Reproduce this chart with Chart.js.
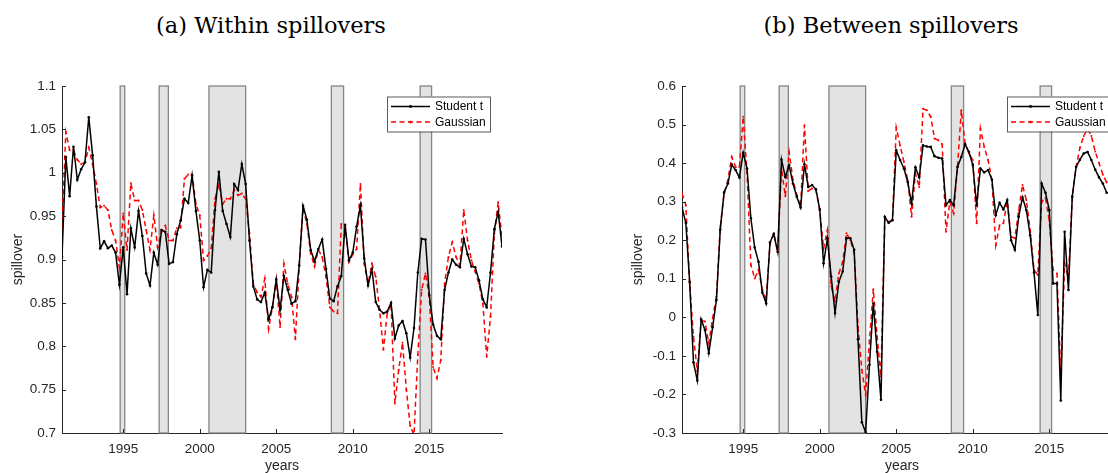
<!DOCTYPE html>
<html>
<head>
<meta charset="utf-8">
<script src="https://cdn.jsdelivr.net/npm/chart.js@4.4.1/dist/chart.umd.min.js"></script>
<style>
  html, body { margin: 0; padding: 0; background: #fff; width: 1108px; height: 473px; overflow: hidden; }
  .panel { position: absolute; top: 0; }
  .ttl { position: absolute; top: 10px; line-height: 30px; font-family: "DejaVu Serif", serif; font-size: 22.5px; color: #000; white-space: nowrap; transform: translateX(-50%); }
</style>
</head>
<body>
<div class="ttl" style="left:271px">(a) Within spillovers</div>
<div class="ttl" style="left:891px">(b) Between spillovers</div>
<div class="panel" style="left:0"><canvas id="within" width="544" height="473"></canvas></div>
<div class="panel" style="left:620px"><canvas id="between" width="544" height="473"></canvas></div>
<script>
// quarterly series, first observation 1991Q1
const firstYear = 1991;
const lastYear = 2019.75;
const yearTicks = [1995, 2000, 2005, 2010, 2015];

// shaded crisis periods
const bandStart = [1994.8, 1997.35, 2000.6, 2008.6, 2014.4];
const bandEnd   = [1995.1, 1997.95, 2003.0, 2009.4, 2015.15];

const withinTicks  = [0.7, 0.75, 0.8, 0.85, 0.9, 0.95, 1, 1.05, 1.1];
const betweenTicks = [-0.3, -0.2, -0.1, 0, 0.1, 0.2, 0.3, 0.4, 0.5, 0.6];

const studentWithin = [
  0.903, 1.018, 0.973, 1.030, 0.992, 1.004, 1.012, 1.064, 1.020, 0.961,
  0.913, 0.921, 0.913, 0.916, 0.908, 0.871, 0.914, 0.860, 0.936, 0.914,
  0.956, 0.927, 0.884, 0.870, 0.908, 0.894, 0.934, 0.932, 0.895, 0.897,
  0.929, 0.945, 0.970, 0.965, 0.997, 0.956, 0.922, 0.868, 0.888, 0.885,
  0.957, 1.001, 0.956, 0.941, 0.926, 0.987, 0.980, 1.010, 0.987, 0.922,
  0.869, 0.854, 0.851, 0.862, 0.831, 0.845, 0.877, 0.842, 0.881, 0.865,
  0.849, 0.852, 0.893, 0.962, 0.946, 0.911, 0.898, 0.912, 0.923, 0.889,
  0.855, 0.852, 0.869, 0.881, 0.940, 0.899, 0.908, 0.938, 0.962, 0.901,
  0.870, 0.889, 0.851, 0.842, 0.838, 0.840, 0.850, 0.809, 0.824, 0.829,
  0.815, 0.787, 0.821, 0.885, 0.924, 0.923, 0.859, 0.825, 0.812, 0.808,
  0.865, 0.885, 0.900, 0.894, 0.891, 0.924, 0.906, 0.892, 0.891, 0.876,
  0.854, 0.845, 0.885, 0.935, 0.955, 0.915
];
const gaussianWithin = [
  0.936, 1.047, 1.026, 1.026, 1.015, 1.010, 1.012, 1.029, 1.010, 0.987,
  0.960, 0.962, 0.957, 0.934, 0.922, 0.891, 0.953, 0.911, 0.988, 0.968,
  0.968, 0.957, 0.934, 0.911, 0.951, 0.914, 0.932, 0.939, 0.922, 0.922,
  0.936, 0.937, 0.993, 0.998, 0.998, 0.964, 0.951, 0.899, 0.904, 0.913,
  0.970, 0.987, 0.964, 0.970, 0.970, 0.980, 0.974, 0.976, 0.970, 0.930,
  0.872, 0.862, 0.857, 0.878, 0.820, 0.845, 0.877, 0.822, 0.895, 0.872,
  0.857, 0.808, 0.893, 0.960, 0.941, 0.907, 0.892, 0.911, 0.903, 0.880,
  0.845, 0.840, 0.838, 0.941, 0.939, 0.897, 0.906, 0.912, 0.987, 0.895,
  0.872, 0.895, 0.880, 0.842, 0.796, 0.838, 0.849, 0.734, 0.773, 0.804,
  0.750, 0.708, 0.698, 0.790, 0.865, 0.884, 0.857, 0.776, 0.763, 0.784,
  0.872, 0.903, 0.920, 0.903, 0.893, 0.957, 0.922, 0.899, 0.886, 0.872,
  0.849, 0.788, 0.834, 0.930, 0.966, 0.925
];

const studentBetween = [
  0.285, 0.245, 0.092, -0.117, -0.164, -0.005, -0.033, -0.093, -0.026, 0.045,
  0.228, 0.324, 0.347, 0.396, 0.382, 0.363, 0.427, 0.386, 0.257, 0.181,
  0.144, 0.064, 0.036, 0.194, 0.216, 0.170, 0.409, 0.364, 0.394, 0.347,
  0.313, 0.285, 0.397, 0.338, 0.343, 0.332, 0.280, 0.140, 0.205, 0.105,
  0.011, 0.092, 0.119, 0.205, 0.205, 0.175, -0.057, -0.272, -0.298, -0.123,
  0.036, -0.089, -0.214, 0.261, 0.245, 0.252, 0.433, 0.408, 0.386, 0.351,
  0.295, 0.389, 0.363, 0.446, 0.443, 0.442, 0.418, 0.414, 0.412, 0.291,
  0.304, 0.291, 0.390, 0.416, 0.449, 0.429, 0.395, 0.291, 0.386, 0.376,
  0.382, 0.357, 0.265, 0.297, 0.280, 0.304, 0.200, 0.175, 0.261, 0.311,
  0.278, 0.213, 0.116, 0.006, 0.347, 0.323, 0.278, 0.088, 0.088, -0.216,
  0.222, 0.071, 0.313, 0.390, 0.409, 0.425, 0.429, 0.408, 0.383, 0.363,
  0.347, 0.323
];
const gaussianBetween = [
  0.321, 0.291, 0.088, -0.050, -0.140, -0.008, -0.011, -0.067, -0.003, 0.054,
  0.235, 0.321, 0.356, 0.416, 0.390, 0.390, 0.520, 0.373, 0.136, 0.101,
  0.123, 0.071, 0.045, 0.192, 0.218, 0.170, 0.386, 0.314, 0.429, 0.356,
  0.317, 0.287, 0.498, 0.328, 0.334, 0.330, 0.278, 0.179, 0.226, 0.080,
  0.041, 0.114, 0.144, 0.218, 0.200, 0.166, -0.024, -0.136, -0.201, -0.060,
  0.073, -0.050, -0.153, 0.257, 0.248, 0.252, 0.492, 0.446, 0.403, 0.356,
  0.261, 0.373, 0.338, 0.541, 0.537, 0.520, 0.464, 0.459, 0.449, 0.222,
  0.300, 0.270, 0.390, 0.537, 0.451, 0.425, 0.408, 0.244, 0.490, 0.442,
  0.408, 0.356, 0.187, 0.239, 0.244, 0.302, 0.209, 0.205, 0.278, 0.343,
  0.304, 0.226, 0.123, 0.110, 0.300, 0.310, 0.250, 0.123, 0.114, -0.149,
  0.140, 0.101, 0.313, 0.390, 0.440, 0.470, 0.490, 0.470, 0.430, 0.400,
  0.370, 0.350
];

const axisColor = '#262626';
const sansFont = '"Liberation Sans", Arial, sans-serif';

function toPoints(values) {
  return values.map((v, i) => ({ x: firstYear + i / 4, y: v }));
}

// grey shaded periods behind the lines
const bandsPlugin = {
  id: 'bands',
  beforeDatasetsDraw(chart) {
    const { ctx, chartArea, scales: { x } } = chart;
    ctx.save();
    bandStart.forEach((s, k) => {
      const x0 = x.getPixelForValue(s);
      const x1 = x.getPixelForValue(bandEnd[k]);
      ctx.fillStyle = '#e3e3e3';
      ctx.fillRect(x0, chartArea.top, x1 - x0, chartArea.bottom - chartArea.top);
      ctx.strokeStyle = '#858585';
      ctx.lineWidth = 1.3;
      ctx.strokeRect(x0, chartArea.top, x1 - x0, chartArea.bottom - chartArea.top);
    });
    ctx.restore();
  }
};

// legend box in the top right corner of the plot
const boxLegend = {
  id: 'boxLegend',
  afterDatasetsDraw(chart) {
    const { ctx, chartArea } = chart;
    const w = 103, h = 35;
    const left = chartArea.right - 12 - w;
    const top = chartArea.top + 10.5;
    ctx.save();
    ctx.fillStyle = '#fff';
    ctx.fillRect(left, top, w, h);
    ctx.strokeStyle = '#5a5a5a';
    ctx.lineWidth = 1;
    ctx.strokeRect(left + 0.5, top + 0.5, w, h);
    const rows = [
      { label: 'Student t', color: '#000', dash: [] },
      { label: 'Gaussian', color: '#ff0000', dash: [5, 3.5] }
    ];
    rows.forEach((r, k) => {
      const y = top + 10 + k * 15.6;
      ctx.strokeStyle = r.color;
      ctx.lineWidth = 1.5;
      ctx.setLineDash(r.dash);
      ctx.beginPath();
      ctx.moveTo(left + 4, y);
      ctx.lineTo(left + 43, y);
      ctx.stroke();
      ctx.setLineDash([]);
      ctx.fillStyle = r.color;
      ctx.beginPath();
      ctx.arc(left + 23.5, y, 1.4, 0, Math.PI * 2);
      ctx.fill();
      ctx.fillStyle = '#000';
      ctx.font = '12px ' + sansFont;
      ctx.textBaseline = 'middle';
      ctx.fillText(r.label, left + 48, y + 0.5);
    });
    ctx.restore();
  }
};

// matlab style inward ticks
const innerTicks = {
  id: 'innerTicks',
  afterDraw(chart) {
    const { ctx, chartArea, scales: { x, y } } = chart;
    ctx.save();
    ctx.strokeStyle = axisColor;
    ctx.lineWidth = 1;
    ctx.beginPath();
    x.ticks.forEach(t => {
      const px = Math.round(x.getPixelForValue(t.value)) + 0.5;
      ctx.moveTo(px, chartArea.bottom);
      ctx.lineTo(px, chartArea.bottom - 4);
    });
    y.ticks.forEach(t => {
      const py = Math.round(y.getPixelForValue(t.value)) + 0.5;
      ctx.moveTo(chartArea.left, py);
      ctx.lineTo(chartArea.left + 4, py);
    });
    ctx.stroke();
    ctx.restore();
  }
};

function makePanel(id, student, gaussian, yTicks) {
  new Chart(document.getElementById(id), {
    type: 'line',
    data: {
      datasets: [
        {
          label: 'Student t',
          data: toPoints(student),
          borderColor: '#000',
          backgroundColor: '#000',
          borderWidth: 1.5,
          pointRadius: 1.3,
          pointBorderWidth: 0,
          tension: 0
        },
        {
          label: 'Gaussian',
          data: toPoints(gaussian),
          borderColor: '#ff0000',
          backgroundColor: '#ff0000',
          borderWidth: 1.5,
          borderDash: [5, 3.5],
          pointRadius: 1,
          pointBorderWidth: 0,
          tension: 0
        }
      ]
    },
    options: {
      responsive: false,
      animation: false,
      devicePixelRatio: 1,
      layout: { padding: { top: 86, right: 42, left: 0, bottom: 0 } },
      plugins: { legend: { display: false }, tooltip: { enabled: false } },
      scales: {
        x: {
          type: 'linear',
          min: firstYear,
          max: lastYear,
          afterBuildTicks: s => { s.ticks = yearTicks.map(v => ({ value: v })); },
          afterFit: s => { s.height = 40; },
          grid: { display: true, drawOnChartArea: false, drawTicks: false },
          border: { display: true, color: axisColor, width: 1 },
          ticks: {
            autoSkip: false,
            maxRotation: 0,
            padding: 8,
            color: axisColor,
            font: { family: sansFont, size: 13.5 },
            callback: v => String(v)
          },
          title: {
            display: true,
            text: 'years',
            color: axisColor,
            font: { family: sansFont, size: 14, lineHeight: 1 },
            padding: { top: 0, bottom: 0 }
          }
        },
        y: {
          min: yTicks[0],
          max: yTicks[yTicks.length - 1],
          afterBuildTicks: s => { s.ticks = yTicks.map(v => ({ value: v })); },
          afterFit: s => { s.width = 62; },
          grid: { display: true, drawOnChartArea: false, drawTicks: false },
          border: { display: true, color: axisColor, width: 1 },
          ticks: {
            autoSkip: false,
            padding: 6,
            color: axisColor,
            font: { family: sansFont, size: 13.5 },
            callback: v => String(Number(v.toFixed(2)))
          },
          title: {
            display: true,
            text: 'spillover',
            color: axisColor,
            font: { family: sansFont, size: 14, lineHeight: 1 },
            padding: { top: 11, bottom: 0 }
          }
        }
      }
    },
    plugins: [bandsPlugin, boxLegend, innerTicks]
  });
}

makePanel('within', studentWithin, gaussianWithin, withinTicks);
makePanel('between', studentBetween, gaussianBetween, betweenTicks);
</script>
</body>
</html>
